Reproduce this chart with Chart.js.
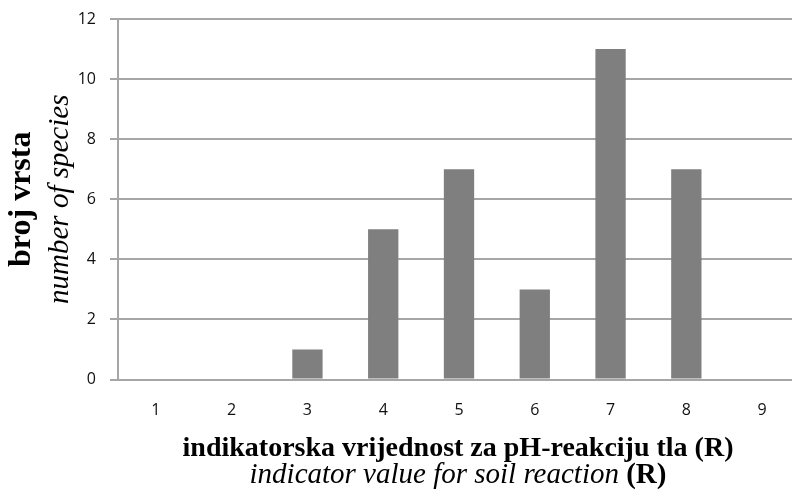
<!DOCTYPE html>
<html>
<head>
<meta charset="utf-8">
<script src="https://cdn.jsdelivr.net/npm/chart.js"></script>
<style>
   html, body { margin: 0; padding: 0; background: #fff; overflow: hidden; }
   canvas { display: block; }
</style>
</head>
<body>
<canvas id="canvas" width="800" height="494"></canvas>
<script>
// DATA
var categories = ['1', '2', '3', '4', '5', '6', '7', '8', '9'];
var speciesCount = [0, 0, 1, 5, 7, 3, 11, 7, 0];
var yTitle = ['broj vrsta', 'number of species'];
var xTitle = ['indikatorska vrijednost za pH-reakciju tla (R)', 'indicator value for soil reaction ', '(R)'];

var gridColor = '#a6a6a6';

// axis titles drawn by hand (two fonts on one title)
var axisTitles = {
   id: 'axisTitles',
   afterDraw: function (chart) {
      var ctx = chart.ctx;
      var area = chart.chartArea;
      var cy = (area.top + area.bottom) / 2;

      ctx.save();
      ctx.fillStyle = '#000';
      ctx.textAlign = 'center';
      ctx.textBaseline = 'alphabetic';
      ctx.translate(30, cy);
      ctx.rotate(-Math.PI / 2);
      ctx.font = 'bold 32px "Liberation Serif"';
      ctx.fillText(yTitle[0], 0, 0);
      ctx.font = 'italic 29px "Liberation Serif"';
      ctx.fillText(yTitle[1], 0, 38);
      ctx.restore();

      ctx.save();
      ctx.fillStyle = '#000';
      ctx.textBaseline = 'alphabetic';
      ctx.textAlign = 'center';
      ctx.font = 'bold 28px "Liberation Serif"';
      ctx.fillText(xTitle[0], 458, 456);
      // second line: italic text + bold (R)
      ctx.textAlign = 'left';
      ctx.font = 'italic 29px "Liberation Serif"';
      var w1 = ctx.measureText(xTitle[1]).width;
      ctx.font = 'bold 29px "Liberation Serif"';
      var w2 = ctx.measureText(xTitle[2]).width;
      var x0 = 458 - (w1 + w2) / 2;
      ctx.font = 'italic 29px "Liberation Serif"';
      ctx.fillText(xTitle[1], x0, 483);
      ctx.font = 'bold 29px "Liberation Serif"';
      ctx.fillText(xTitle[2], x0 + w1, 483);
      ctx.restore();
   }
};

window.onload = function () {
   var ctx = document.getElementById('canvas').getContext('2d');
   window.myBar = new Chart(ctx, {
      type: 'bar',
      data: {
         labels: categories,
         datasets: [{
            label: 'broj vrsta',
            data: speciesCount,
            backgroundColor: '#7f7f7f',
            borderWidth: 0,
            categoryPercentage: 1,
            barPercentage: 0.4
         }]
      },
      options: {
         responsive: false,
         animation: false,
         layout: {
            padding: { top: 19, left: 0, right: 0, bottom: 0 }
         },
         plugins: {
            legend: { display: false },
            title: { display: false },
            tooltip: { enabled: false }
         },
         scales: {
            x: {
               grid: { display: false, drawTicks: false },
               border: { display: true, color: gridColor, width: 2 },
               ticks: {
                  padding: 21,
                  color: '#111',
                  font: { family: '"Open Sans"', size: 16 }
               },
               afterFit: function (scale) {
                  scale.height = 114.5;
                  scale.paddingLeft = 0;
                  scale.paddingRight = 0;
               }
            },
            y: {
               min: 0,
               max: 12,
               ticks: {
                  stepSize: 2,
                  padding: 14,
                  color: '#111',
                  font: { family: '"Open Sans"', size: 16 }
               },
               grid: { color: gridColor, lineWidth: 2, tickLength: 8 },
               border: { display: true, color: gridColor, width: 2 },
               afterFit: function (scale) {
                  scale.width = 118;
                  scale.paddingTop = 0;
                  scale.paddingBottom = 0;
               }
            }
         }
      },
      plugins: [axisTitles]
   });
};
</script>
</body>
</html>
